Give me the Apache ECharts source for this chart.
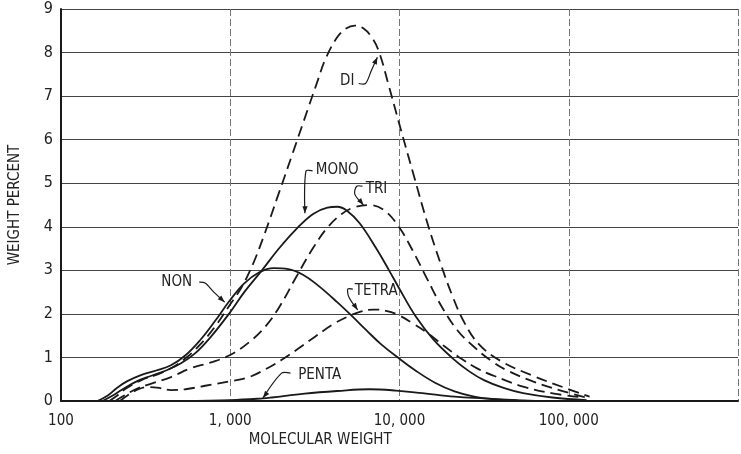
<!DOCTYPE html>
<html>
<head>
<meta charset="utf-8">
<script src="https://cdn.jsdelivr.net/npm/echarts@6/dist/echarts.min.js"></script>
<style>
  html, body { margin: 0; padding: 0; background: #ffffff; }
  #chart { width: 741px; height: 454px; }
</style>
</head>
<body>
<div id="chart"></div>
<script>
// Molecular weight distribution of the oligomer fractions (weight percent vs. molecular weight)
const xTickValues = [100, 1000, 10000, 100000];
const yTickValues = [0, 1, 2, 3, 4, 5, 6, 7, 8, 9];

const nonData = [[164,0],[188,0.12],[214,0.3],[245,0.45],[299,0.6],[365,0.7],[446,0.82],[544,1.05],[665,1.4],[811,1.83],[991,2.3],[1210,2.7],[1477,2.95],[1804,3.05],[2202,3.03],[2689,2.9],[3283,2.66],[4283,2.27],[5302,1.93],[6386,1.62],[7798,1.3],[9908,0.98],[12425,0.7],[16210,0.42],[21150,0.22],[27610,0.1],[36040,0.04],[53720,0]];
const monoData = [[176,0],[201,0.12],[229,0.26],[280,0.45],[342,0.58],[417,0.7],[509,0.86],[622,1.1],[759,1.45],[991,2.02],[1210,2.5],[1538,3.0],[1928,3.49],[2416,3.92],[3071,4.29],[3750,4.44],[4283,4.46],[4894,4.37],[5817,4.08],[7295,3.5],[8675,3.0],[9908,2.6],[12425,1.95],[15790,1.42],[20600,0.98],[25830,0.68],[31540,0.48],[41170,0.3],[53720,0.18],[80070,0.08],[127600,0.02]];
const diData = [[193,0],[214,0.12],[245,0.3],[299,0.48],[365,0.6],[446,0.75],[544,0.98],[665,1.3],[811,1.7],[991,2.2],[1162,2.6],[1364,3.15],[1600,3.85],[1928,4.75],[2353,5.72],[2873,6.7],[3283,7.35],[3651,7.85],[4283,8.35],[4829,8.55],[5443,8.62],[6135,8.55],[6916,8.33],[7594,8.0],[8557,7.3],[9908,6.4],[12100,5.2],[14580,4.1],[17330,3.2],[20600,2.4],[24170,1.8],[29510,1.3],[39560,0.92],[61370,0.58],[95200,0.3],[132800,0.1]];
const triData = [[209,0],[235,0.12],[280,0.28],[342,0.4],[446,0.55],[582,0.75],[759,0.88],[991,1.05],[1293,1.35],[1621,1.72],[1979,2.2],[2416,2.8],[3071,3.5],[3750,3.98],[4579,4.3],[5443,4.45],[6646,4.5],[8118,4.38],[9908,4.0],[11940,3.46],[14580,2.8],[17800,2.16],[22020,1.62],[27610,1.24],[34630,0.93],[42830,0.71],[61370,0.45],[87900,0.25],[124200,0.09]];
const tetraData = [[223,0],[252,0.15],[287,0.27],[328,0.32],[380,0.3],[446,0.25],[544,0.27],[710,0.35],[991,0.45],[1293,0.55],[1600,0.72],[2005,0.94],[2515,1.2],[3153,1.47],[4008,1.75],[4894,1.93],[5895,2.05],[7010,2.1],[8332,2.07],[9908,1.97],[12100,1.77],[14770,1.55],[18520,1.25],[23230,0.97],[28730,0.75],[36040,0.58],[53720,0.33],[81790,0.17],[124200,0.08]];
const pentaData = [[530,0],[1000,0.02],[1560,0.06],[1760,0.08],[2750,0.17],[4280,0.23],[6650,0.27],[9520,0.24],[13650,0.18],[21150,0.1],[31540,0.06],[50000,0.02],[70000,0]];

// Curve labels with their leader lines (data coordinates); the arrow sits at the last point
const annotations = [
  { text: 'NON',   at: [483, 2.73],  align: 'center', leader: [[656,2.73],[710,2.71],[800,2.5],[927,2.27]] },
  { text: 'MONO',  at: [3200, 5.3],  align: 'left',   leader: [[3070,5.28],[2800,5.28],[2760,4.31]] },
  { text: 'DI',    at: [4910, 7.34], align: 'center', leader: [[5740,7.29],[6300,7.29],[6820,7.59],[7400,7.89]] },
  { text: 'TRI',   at: [6310, 4.86], align: 'left',   leader: [[6050,4.93],[5590,4.93],[5440,4.75],[6130,4.5]] },
  { text: 'TETRA', at: [5440, 2.52], align: 'left',   leader: [[5300,2.57],[4950,2.57],[5020,2.39],[5660,2.09]] },
  { text: 'PENTA', at: [2520, 0.6],  align: 'left',   leader: [[2270,0.64],[2010,0.64],[1560,0.07]] }
];

const FONT = "'DejaVu Sans Condensed', 'Liberation Sans Narrow', 'DejaVu Sans', sans-serif";
const INK = '#1a1a1a';

function withCommas(v) {
  return String(v).replace(/\B(?=(\d{3})+(?!\d))/g, ', ');
}

function curve(name, data, dashed) {
  return {
    name: name,
    type: 'line',
    data: data,
    smooth: 0.4,
    symbol: 'none',
    lineStyle: { color: INK, width: 1.8, type: dashed ? [11, 6] : 'solid' },
    z: 5
  };
}

const chart = echarts.init(document.getElementById('chart'), null, { renderer: 'canvas' });

chart.setOption({
  backgroundColor: '#ffffff',
  animation: false,
  grid: { left: 57, right: -9, top: 9, bottom: 53, containLabel: false },
  xAxis: {
    type: 'log',
    logBase: 10,
    min: 100,
    max: 1000000,
    axisLine: { show: true, lineStyle: { color: INK, width: 2 } },
    axisTick: { show: false },
    axisLabel: {
      margin: 13,
      color: '#222',
      fontFamily: FONT,
      fontSize: 15,
      formatter: function (v) { return xTickValues.indexOf(v) >= 0 ? withCommas(v) : ''; }
    },
    splitLine: { show: true, lineStyle: { color: '#777', width: 1, type: [7, 3] } },
    minorTick: { show: false }
  },
  yAxis: {
    type: 'value',
    min: 0,
    max: 9,
    interval: 1,
    name: 'WEIGHT PERCENT',
    nameLocation: 'middle',
    nameGap: 38,
    nameRotate: 90,
    nameTextStyle: { color: '#222', fontFamily: FONT, fontSize: 15 },
    axisLine: { show: true, lineStyle: { color: INK, width: 2 } },
    axisTick: { show: false },
    axisLabel: {
      margin: 8,
      color: '#222',
      fontFamily: FONT,
      fontSize: 16,
      formatter: function (v) { return yTickValues.indexOf(v) >= 0 ? String(v) : ''; }
    },
    splitLine: { show: true, lineStyle: { color: '#444', width: 1 } }
  },
  series: [
    curve('NON', nonData, false),
    curve('MONO', monoData, false),
    curve('DI', diData, true),
    curve('TRI', triData, true),
    curve('TETRA', tetraData, true),
    curve('PENTA', pentaData, false)
  ]
});

// Axis title under the ticks, plus the curve labels and their arrows
function toPx(p) {
  return chart.convertToPixel({ xAxisIndex: 0, yAxisIndex: 0 }, p);
}

const graphics = [];
annotations.forEach(function (a) {
  const t = toPx(a.at);
  graphics.push({
    type: 'text',
    x: t[0], y: t[1],
    style: { text: a.text, fill: '#222', font: '15px ' + FONT, align: a.align, verticalAlign: 'middle' },
    z: 10
  });
  const pts = a.leader.map(toPx);
  graphics.push({
    type: 'polyline',
    shape: { points: pts, smooth: 0.3 },
    style: { stroke: INK, lineWidth: 1.2, fill: null },
    z: 10
  });
  const tip = pts[pts.length - 1];
  const prev = pts[pts.length - 2];
  const ang = Math.atan2(tip[1] - prev[1], tip[0] - prev[0]);
  const len = 7, half = 2.6;
  const bx = tip[0] - len * Math.cos(ang), by = tip[1] - len * Math.sin(ang);
  graphics.push({
    type: 'polygon',
    shape: { points: [tip, [bx - half * Math.sin(ang), by + half * Math.cos(ang)], [bx + half * Math.sin(ang), by - half * Math.cos(ang)]] },
    style: { fill: INK },
    z: 10
  });
});

const titleAnchor = toPx([3400, 0]);
graphics.push({
  type: 'text',
  x: titleAnchor[0], y: 440,
  style: { text: 'MOLECULAR WEIGHT', fill: '#222', font: '15px ' + FONT, align: 'center', verticalAlign: 'middle' },
  z: 10
});

chart.setOption({ graphic: graphics });
</script>
</body>
</html>
